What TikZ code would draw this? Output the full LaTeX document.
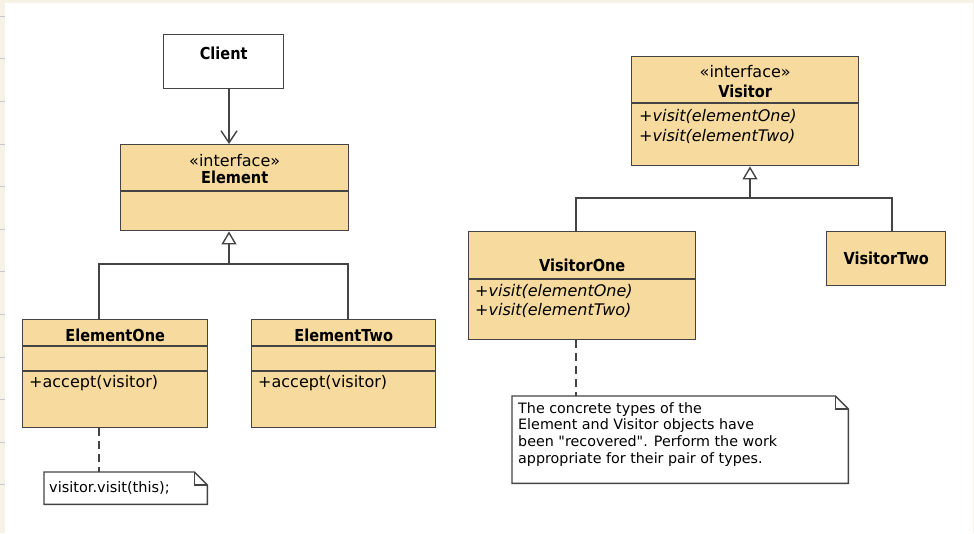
\documentclass[tikz,border=0pt]{standalone}
\usepackage{fontspec}
\setmainfont{DejaVu Sans}[Ligatures=TeXOff]
\newfontfamily\namefont{DejaVu Sans}[FakeStretch=0.88]
\usepackage{xcolor}
\usepackage{tikz}
\usetikzlibrary{arrows.meta, calc, positioning}

\definecolor{classfill}{RGB}{247,218,157}
\definecolor{umlline}{RGB}{68,68,68}
\definecolor{pagebg}{RGB}{246,243,230}
\definecolor{ruling}{RGB}{200,200,200}

\tikzset{
  uml/.style={draw=umlline, line width=1.4pt},
  classbox/.style={uml, fill=classfill, anchor=north west, inner sep=0pt},
  clientbox/.style={uml, fill=white, anchor=north west, inner sep=0pt},
  notebox/.style={anchor=north west, inner sep=0pt},
  classname/.style={font=\namefont\bfseries\fontsize{16.5}{19}\selectfont, anchor=base, inner sep=0pt},
  stereo/.style={font=\fontsize{16}{19}\selectfont, anchor=base, inner sep=0pt},
  member/.style={font=\fontsize{16}{19}\selectfont, anchor=base west, inner sep=0pt},
  abstractop/.style={member, font=\itshape\fontsize{16}{19}\selectfont},
  notetext/.style={font=\fontsize{14.3}{16.7}\selectfont, align=left, anchor=north west, inner sep=0pt},
  generalize/.style={uml, -{Triangle[open, length=13pt, width=15pt]}},
  navigable/.style={uml, -{Straight Barb[length=12pt, width=16pt]}},
  anchorlink/.style={uml, dash pattern=on 8pt off 5pt},
}

\begin{document}
\begin{tikzpicture}[x=1pt, y=-1pt]
    \useasboundingbox (0,0) rectangle (974,533);
    \fill[pagebg] (0,0) rectangle (974,533);
    \fill[white] (5,3) rectangle (973,533);
    \foreach \k in {0,...,11}
      \draw[ruling, line width=0.6pt] (0,16+42.6*\k) -- (5,16+42.6*\k);

    % element side
    \node[clientbox, minimum width=120pt, minimum height=54pt] (client) at (163,34) {};
    \node[classname] (client-name) at ($(client.north)+(0,25)$) {Client};

    \node[classbox, minimum width=228pt, minimum height=86pt] (element) at (120,144) {};
    \node[stereo] (element-stereo) at ($(element.north)+(0,22)$) {«interface»};
    \node[classname] (element-name) at ($(element.north)+(0,39)$) {Element};

    \node[classbox, minimum width=185pt, minimum height=108pt] (eone) at (22,319) {};
    \node[classname] (eone-name) at ($(eone.north)+(0,22)$) {ElementOne};
    \node[member] (eone-op) at ($(eone.north west)+(7,68)$) {+accept(visitor)};

    \node[classbox, minimum width=184pt, minimum height=108pt] (etwo) at (251,319) {};
    \node[classname] (etwo-name) at ($(etwo.north)+(0,22)$) {ElementTwo};
    \node[member] (etwo-op) at ($(etwo.north west)+(7,68)$) {+accept(visitor)};

    \node[notebox, minimum width=163pt, minimum height=32pt] (note1) at (44,472) {};

    % visitor side
    \node[classbox, minimum width=227pt, minimum height=109pt] (visitor) at (631,56) {};
    \node[stereo] (visitor-stereo) at ($(visitor.north)+(0,21)$) {«interface»};
    \node[classname] (visitor-name) at ($(visitor.north)+(0,41)$) {Visitor};
    \node[abstractop] (visitor-op1) at ($(visitor.north west)+(8,65)$) {+visit(elementOne)};
    \node[abstractop] (visitor-op2) at ($(visitor.north west)+(8,85)$) {+visit(elementTwo)};

    \node[classbox, minimum width=227pt, minimum height=108pt] (vone) at (468,231) {};
    \node[classname] (vone-name) at ($(vone.north)+(0,40)$) {VisitorOne};
    \node[abstractop] (vone-op1) at ($(vone.north west)+(7,65)$) {+visit(elementOne)};
    \node[abstractop] (vone-op2) at ($(vone.north west)+(7,84)$) {+visit(elementTwo)};

    \node[classbox, minimum width=119pt, minimum height=54pt] (vtwo) at (826,231) {};
    \node[classname] (vtwo-name) at ($(vtwo.north)+(0,33)$) {VisitorTwo};

    \node[notebox, minimum width=336pt, minimum height=87pt] (note2) at (512,396) {};

    % compartments
    \foreach \cls/\dy in {element/47, eone/27, eone/52, etwo/27, etwo/52, visitor/47, vone/48}
      \draw[uml] ($(\cls.north west)+(0,\dy)$) -- ($(\cls.north east)+(0,\dy)$);

    % notes with folded corner
    \foreach \n in {note1, note2} {
      \draw[uml, fill=white] (\n.north west) -- ($(\n.north east)+(-13,0)$)
        -- ($(\n.north east)+(0,13)$) -- (\n.south east) -- (\n.south west) -- cycle;
      \draw[uml] ($(\n.north east)+(-13,0)$) |- ($(\n.north east)+(0,13)$);
    }
    \node[member, font=\fontsize{14.5}{17}\selectfont] (note1-text) at ($(note1.north west)+(5,20)$) {visitor.visit(this);};
    \node[notetext] (note2-text) at ($(note2.north west)+(6,6)$)
      {The concrete types of the\\Element and Visitor objects have\\been "recovered". Perform the work\\appropriate for their pair of types.};

    % connectors
    \coordinate (ejoin) at (229,264);
    \coordinate (vjoin) at (750,198);
    \coordinate (eone-top) at ($(eone.north west)+(77,0)$);
    \coordinate (etwo-top) at ($(etwo.north west)+(97,0)$);
    \coordinate (vone-top) at ($(vone.north west)+(108,0)$);
    \coordinate (vtwo-top) at ($(vtwo.north west)+(66,0)$);
    \coordinate (vone-foot) at ($(vone.south west)+(108,0)$);

    \draw[navigable] (ejoin |- client.south) -- (ejoin |- element.north);
    \draw[uml] (eone-top) |- (ejoin) -| (etwo-top);
    \draw[generalize] (ejoin) -- (ejoin |- element.south);
    \draw[uml] (vone-top) |- (vjoin) -| (vtwo-top);
    \draw[generalize] (vjoin) -- (vjoin |- visitor.south);

    \draw[anchorlink] (eone-top |- eone.south) -- (eone-top |- note1.north);
    \draw[anchorlink] (vone-foot) -- (vone-foot |- note2.north);
  \end{tikzpicture}
\end{document}
